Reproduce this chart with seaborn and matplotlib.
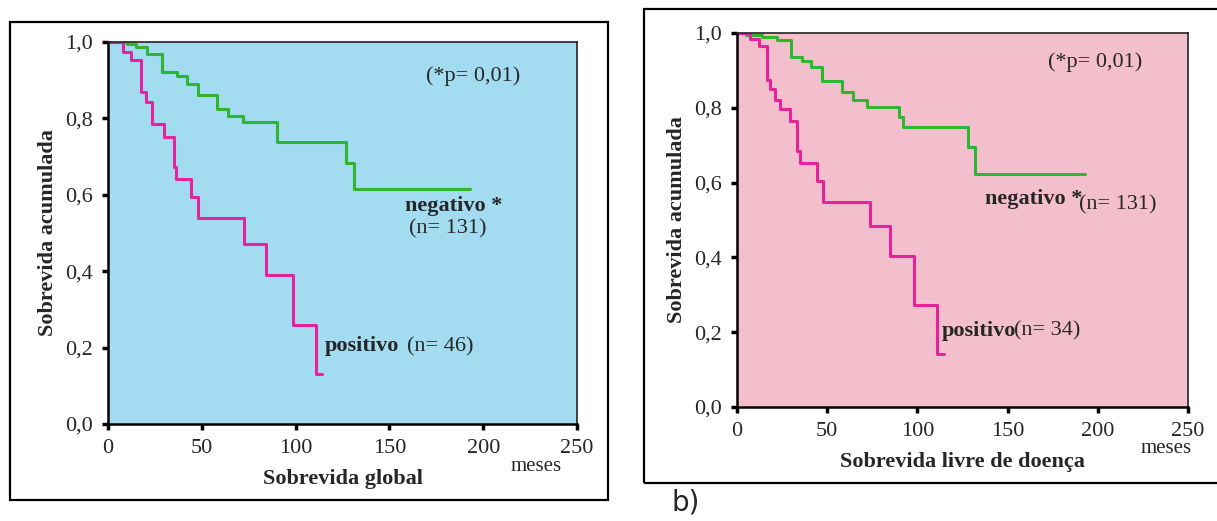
import numpy as np
import pandas as pd
import matplotlib
matplotlib.use("Agg")
import matplotlib.pyplot as plt
import seaborn as sns
from matplotlib.patches import Rectangle

# ---------------- data ----------------
# Panel a) Sobrevida global
neg_global_t = [0, 4, 10, 15, 21, 29, 37, 42, 48, 58, 64, 72, 90, 127, 131, 193]
neg_global_s = [1.0, 1.0, 0.995, 0.987, 0.968, 0.922, 0.912, 0.889, 0.860, 0.825, 0.807, 0.790, 0.737, 0.682, 0.615, 0.615]
pos_global_t = [0, 8, 12, 17.5, 20, 23.5, 30, 35, 36.5, 44, 48, 72.5, 84, 98.5, 111, 114]
pos_global_s = [1.0, 0.975, 0.953, 0.868, 0.842, 0.785, 0.752, 0.672, 0.641, 0.594, 0.538, 0.472, 0.390, 0.258, 0.130, 0.130]

# Panel b) Sobrevida livre de doença
neg_dfs_t = [0, 5, 14, 22, 30, 36, 41, 47, 58, 64.5, 72, 90, 92, 128, 132, 193]
neg_dfs_s = [1.0, 0.995, 0.99, 0.98, 0.935, 0.925, 0.91, 0.872, 0.843, 0.822, 0.802, 0.776, 0.748, 0.695, 0.622, 0.622]
pos_dfs_t = [0, 7, 12, 16.5, 18.5, 21, 24, 29.5, 33.5, 35, 44.5, 47.5, 73.5, 85, 98, 111, 115]
pos_dfs_s = [1.0, 0.985, 0.965, 0.875, 0.85, 0.82, 0.797, 0.765, 0.685, 0.653, 0.605, 0.548, 0.485, 0.405, 0.272, 0.143, 0.143]

x_ticks = [0, 50, 100, 150, 200, 250]
y_ticks = [0.0, 0.2, 0.4, 0.6, 0.8, 1.0]
y_ticklabels = ["0,0", "0,2", "0,4", "0,6", "0,8", "1,0"]

GREEN = "#2fb52f"
MAGENTA = "#e6239b"
BLUE_BG = "#a3dcf1"
PINK_BG = "#f4bfcd"

# ---------------- style ----------------
sns.set_theme(style="white")
plt.rcParams["font.family"] = ["Liberation Serif", "DejaVu Serif"]

W, H = 1217, 521
fig = plt.figure(figsize=(W / 100, H / 100), dpi=100)
fig.patch.set_facecolor("white")


def px_rect(x0, y0, x1, y1):
    """pixel box (top-left origin) -> figure fraction rect"""
    return [x0 / W, 1 - y1 / H, (x1 - x0) / W, (y1 - y0) / H]


# outer frames
fig.patches.append(Rectangle((10 / W, 1 - 500 / H), 598 / W, 478 / H,
                             transform=fig.transFigure, fill=False,
                             edgecolor="black", linewidth=1.6))
fig.patches.append(Rectangle((644 / W, 1 - 483 / H), 600 / W, 474 / H,
                             transform=fig.transFigure, fill=False,
                             edgecolor="black", linewidth=1.6))

FS = 16


def setup_axes(ax, bg, xlabel, meses_x):
    ax.set_facecolor(bg)
    ax.set_xlim(0, 250)
    ax.set_ylim(0, 1.0)
    ax.set_xticks(x_ticks)
    ax.set_xticklabels([str(v) for v in x_ticks], fontsize=FS)
    ax.set_yticks(y_ticks)
    ax.set_yticklabels(y_ticklabels, fontsize=FS)
    ax.tick_params(axis="both", direction="out", length=4, width=2.5,
                   color="black", bottom=True, left=True, pad=7)
    for side in ["left", "bottom"]:
        ax.spines[side].set_color("black")
        ax.spines[side].set_linewidth(1.8)
    for side in ["top", "right"]:
        ax.spines[side].set_color("#222222")
        ax.spines[side].set_linewidth(1.2)
    ax.set_xlabel(xlabel, fontsize=FS, fontweight="bold", labelpad=8)
    ax.set_ylabel("Sobrevida acumulada", fontsize=FS, fontweight="bold", labelpad=5)
    ax.text(meses_x, -0.11, "meses", fontsize=FS - 1, ha="center", va="center", clip_on=False)
    if ax.get_legend() is not None:
        ax.get_legend().remove()


def draw_curves(ax, nt, ns, pt, ps):
    df_neg = pd.DataFrame({"t": nt, "s": ns})
    df_pos = pd.DataFrame({"t": pt, "s": ps})
    sns.lineplot(data=df_neg, x="t", y="s", ax=ax, color=GREEN, linewidth=2.2,
                 drawstyle="steps-post", estimator=None, sort=False)
    sns.lineplot(data=df_pos, x="t", y="s", ax=ax, color=MAGENTA, linewidth=2.2,
                 drawstyle="steps-post", estimator=None, sort=False)


# ---------------- panel a ----------------
ax1 = fig.add_axes(px_rect(108, 42, 577, 424))
draw_curves(ax1, neg_global_t, neg_global_s, pos_global_t, pos_global_s)
setup_axes(ax1, BLUE_BG, "Sobrevida global", 228)
ax1.text(194.5, 0.91, "(*p= 0,01)", fontsize=FS, ha="center", va="center")
ax1.text(158.5, 0.571, "negativo *", fontsize=FS, fontweight="bold", ha="left", va="center")
ax1.text(160.5, 0.51, "(n= 131)", fontsize=FS, ha="left", va="center")
ax1.text(115.5, 0.203, "positivo", fontsize=FS, fontweight="bold", ha="left", va="center")
ax1.text(159.5, 0.203, "(n= 46)", fontsize=FS, ha="left", va="center")

# ---------------- panel b ----------------
ax2 = fig.add_axes(px_rect(737, 33, 1188, 407))
draw_curves(ax2, neg_dfs_t, neg_dfs_s, pos_dfs_t, pos_dfs_s)
setup_axes(ax2, PINK_BG, "Sobrevida livre de doença", 238)
ax2.text(198.5, 0.921, "(*p= 0,01)", fontsize=FS, ha="center", va="center")
ax2.text(137.5, 0.555, "negativo *", fontsize=FS, fontweight="bold", ha="left", va="center")
ax2.text(189.5, 0.54, "(n= 131)", fontsize=FS, ha="left", va="center")
ax2.text(113.5, 0.203, "positivo", fontsize=FS, fontweight="bold", ha="left", va="center")
ax2.text(153.5, 0.203, "(n= 34)", fontsize=FS, ha="left", va="center")

fig.text(672 / W, 1 - 503 / H, "b)", fontsize=20, ha="left", va="center",
         family=["DejaVu Sans"])

fig.savefig("out.png", dpi=100, facecolor="white")
